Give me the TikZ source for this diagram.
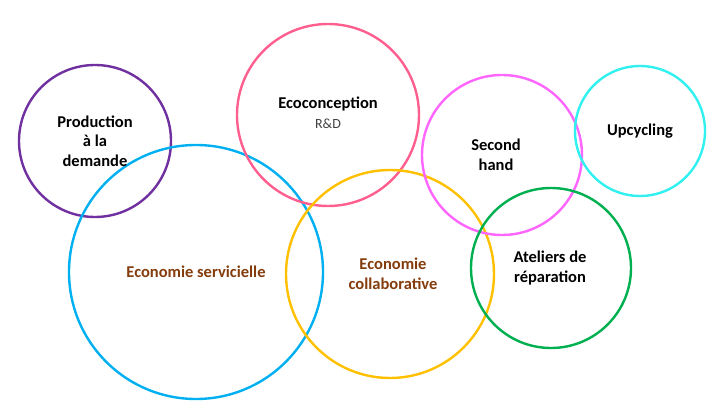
\documentclass[tikz,border=0pt]{standalone}
\usepackage{fontspec}
\setmainfont{Carlito}
\usetikzlibrary{positioning}
\definecolor{cpurple}{HTML}{7030A0}
\definecolor{cblue}{HTML}{00B0F0}
\definecolor{cpink}{HTML}{FF5F8F}
\definecolor{cgold}{HTML}{FFC000}
\definecolor{cmagenta}{HTML}{FF66FF}
\definecolor{ccyan}{HTML}{33F0F0}
\definecolor{cgreen}{HTML}{00B050}
\definecolor{cbrown}{HTML}{843C0C}
\begin{document}
\begin{tikzpicture}[
    x=1pt, y=-1pt,
    bubble/.style={draw, circle, line width=2.4pt, inner sep=0pt},
    label/.style={align=center, font=\fontsize{16.5}{19.5}\selectfont\bfseries, inner sep=0pt},
    brownlabel/.style={label, text=cbrown}
]
\useasboundingbox (0,0) rectangle (720,414);

% Circles
\node (prod) [bubble, cpurple, minimum size=152pt] at (95,141) {};
\node (serv) [bubble, cblue, minimum size=254pt] at (196,272) {};
\node (eco) [bubble, cpink, minimum size=182pt] at (328,115) {};
\node (collab) [bubble, cgold, minimum size=208pt] at (390,274) {};
\node (second) [bubble, cmagenta, minimum size=160pt] at (502,155) {};
\node (upcy) [bubble, ccyan, minimum size=130pt] at (640,131) {};
\node (atel) [bubble, cgreen, minimum size=160pt] at (551,268) {};

% Labels
\node (prodtxt) [label] at (95,141) {Production\\à la\\demande};
\node (servtxt) [brownlabel] at (196,272) {Economie servicielle};
\node (ecotxt) [label] at (328,113) {Ecoconception\\{\fontsize{14}{17}\selectfont\mdseries\color{black!75}R\&D}};
\node (collabtxt) [brownlabel] at (393,274) {Economie\\collaborative};
\node (secondtxt) [label] at (496,155) {Second\\hand};
\node (upcytxt) [label] at (640,131) {Upcycling};
\node (ateltxt) [label] at (550,268) {Ateliers de\\réparation};
\end{tikzpicture}
\end{document}
